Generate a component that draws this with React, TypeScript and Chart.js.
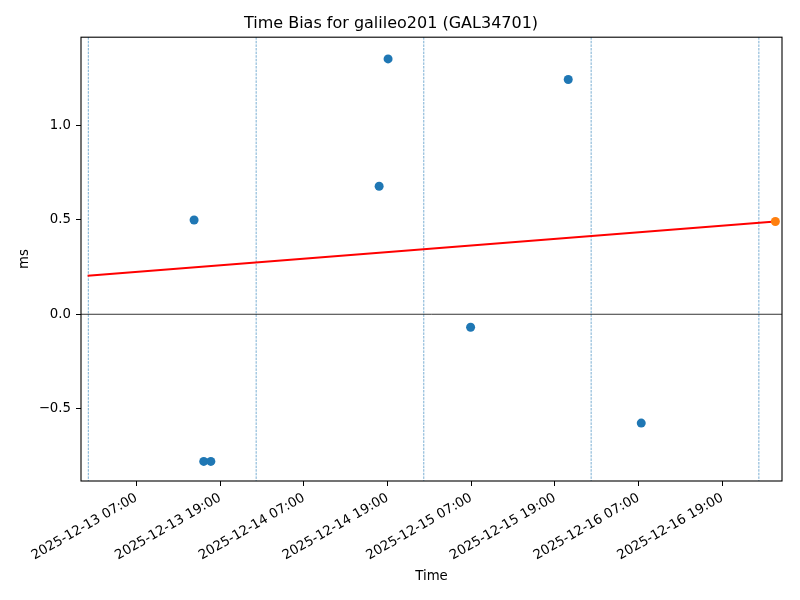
import React, { useEffect, useRef } from "react";
import { Chart, registerables } from "chart.js";

Chart.register(...registerables);

// ---- data ----
const titleText = "Time Bias for galileo201 (GAL34701)";
const xTitle = "Time";
const yTitle = "ms";

const observedTimes = [
  "2025-12-13 15:16",
  "2025-12-13 16:39",
  "2025-12-13 17:40",
  "2025-12-14 17:48",
  "2025-12-14 19:05",
  "2025-12-15 06:55",
  "2025-12-15 20:55",
  "2025-12-16 07:23",
];
const observedBias = [0.5, -0.78, -0.78, 0.679, 1.354, -0.069, 1.245, -0.577];

const predictedTimes = ["2025-12-17 02:37"];
const predictedBias = [0.492];

const fitTimes = ["2025-12-13 00:00", "2025-12-17 02:37"];
const fitBias = [0.204, 0.492];

const dayLineTimes = [
  "2025-12-13 00:06",
  "2025-12-14 00:10",
  "2025-12-15 00:12",
  "2025-12-16 00:12",
  "2025-12-17 00:15",
];

const xTickTimes = [
  "2025-12-13 07:00",
  "2025-12-13 19:00",
  "2025-12-14 07:00",
  "2025-12-14 19:00",
  "2025-12-15 07:00",
  "2025-12-15 19:00",
  "2025-12-16 07:00",
  "2025-12-16 19:00",
];
const yTicks = [-0.5, 0.0, 0.5, 1.0];

const xRange = ["2025-12-12 23:03", "2025-12-17 03:34"];
const yRange = [-0.884, 1.469];

// ---- helpers ----
const BASE = Date.UTC(2025, 11, 13, 7, 0);
function toHours(s: string): number {
  const [d, t] = s.split(" ");
  const [Y, M, D] = d.split("-").map(Number);
  const [h, m] = t.split(":").map(Number);
  return (Date.UTC(Y, M - 1, D, h, m) - BASE) / 3600000;
}
function fmtHours(v: number): string {
  const dt = new Date(BASE + v * 3600000);
  const p = (n: number) => String(n).padStart(2, "0");
  return `${dt.getUTCFullYear()}-${p(dt.getUTCMonth() + 1)}-${p(dt.getUTCDate())} ${p(
    dt.getUTCHours()
  )}:${p(dt.getUTCMinutes())}`;
}

const FONT = "'DejaVu Sans', sans-serif";

export default function App() {
  const ref = useRef<HTMLCanvasElement | null>(null);

  useEffect(() => {
    if (!ref.current) return;

    const decor = {
      id: "decor",
      beforeDatasetsDraw(chart: any) {
        const { ctx, chartArea } = chart;
        const xs = chart.scales.x;
        const ys = chart.scales.y;
        ctx.save();
        // daily dashed lines
        ctx.strokeStyle = "rgba(31,119,180,0.85)";
        ctx.lineWidth = 0.7;
        ctx.setLineDash([2.5, 1.1]);
        dayLineTimes.forEach((t) => {
          const px = xs.getPixelForValue(toHours(t));
          ctx.beginPath();
          ctx.moveTo(px, chartArea.top);
          ctx.lineTo(px, chartArea.bottom);
          ctx.stroke();
        });
        // zero line
        ctx.setLineDash([]);
        ctx.strokeStyle = "#000";
        ctx.lineWidth = 0.8;
        const py = ys.getPixelForValue(0);
        ctx.beginPath();
        ctx.moveTo(chartArea.left, py);
        ctx.lineTo(chartArea.right, py);
        ctx.stroke();
        ctx.restore();
      },
      afterDraw(chart: any) {
        const { ctx, chartArea } = chart;
        ctx.save();
        ctx.strokeStyle = "#000";
        ctx.lineWidth = 1.1;
        ctx.strokeRect(
          chartArea.left,
          chartArea.top,
          chartArea.right - chartArea.left,
          chartArea.bottom - chartArea.top
        );
        ctx.restore();
      },
    };

    const chart = new Chart(ref.current, {
      type: "scatter",
      data: {
        datasets: [
          {
            label: "predicted",
            data: predictedTimes.map((t, i) => ({ x: toHours(t), y: predictedBias[i] })),
            backgroundColor: "#ff7f0e",
            borderWidth: 0,
            pointRadius: 4.5,
            order: 0,
          },
          {
            label: "fit",
            data: fitTimes.map((t, i) => ({ x: toHours(t), y: fitBias[i] })),
            showLine: true,
            borderColor: "#ff0000",
            borderWidth: 2,
            pointRadius: 0,
            order: 1,
          },
          {
            label: "observed",
            data: observedTimes.map((t, i) => ({ x: toHours(t), y: observedBias[i] })),
            backgroundColor: "#1f77b4",
            borderWidth: 0,
            pointRadius: 4.5,
            order: 2,
          },
        ],
      },
      options: {
        responsive: false,
        animation: false,
        layout: { padding: { left: 0, right: 18, top: 0, bottom: 0 } },
        plugins: {
          legend: { display: false },
          tooltip: { enabled: false },
          title: {
            display: true,
            text: titleText,
            color: "#000",
            font: { family: FONT, size: 16, weight: "normal" },
            padding: { top: 14, bottom: 4 },
          },
        },
        scales: {
          x: {
            type: "linear",
            min: toHours(xRange[0]),
            max: toHours(xRange[1]),
            afterBuildTicks: (s: any) => {
              s.ticks = xTickTimes.map((t) => ({ value: toHours(t) }));
            },
            afterFit: (s: any) => {
              s.height = 119;
            },
            border: { display: false },
            grid: {
              drawOnChartArea: false,
              drawTicks: true,
              tickLength: 5,
              color: "#000",
              lineWidth: 1,
            },
            ticks: {
              color: "#000",
              font: { family: FONT, size: 13.3 },
              maxRotation: 30,
              minRotation: 30,
              autoSkip: false,
              padding: 4,
              callback: (v: any) => fmtHours(Number(v)),
            },
            title: {
              display: true,
              text: xTitle,
              color: "#000",
              font: { family: FONT, size: 13.3 },
              padding: { top: 0, bottom: 15 },
            },
          },
          y: {
            type: "linear",
            min: yRange[0],
            max: yRange[1],
            afterBuildTicks: (s: any) => {
              s.ticks = yTicks.map((v) => ({ value: v }));
            },
            afterFit: (s: any) => {
              s.width = 81;
            },
            border: { display: false },
            grid: {
              drawOnChartArea: false,
              drawTicks: true,
              tickLength: 5,
              color: "#000",
              lineWidth: 1,
            },
            ticks: {
              color: "#000",
              font: { family: FONT, size: 13.3 },
              padding: 5,
              callback: (v: any) => Number(v).toFixed(1).replace("-", "\u2212"),
            },
            title: {
              display: true,
              text: yTitle,
              color: "#000",
              font: { family: FONT, size: 13.3 },
              padding: { top: 17, bottom: 0 },
            },
          },
        },
      },
      plugins: [decor],
    } as any);

    return () => chart.destroy();
  }, []);

  return (
    <div style={{ position: "absolute", left: 0, top: 0, width: 800, height: 600, background: "#fff" }}>
      <canvas ref={ref} width={800} height={600} />
    </div>
  );
}
